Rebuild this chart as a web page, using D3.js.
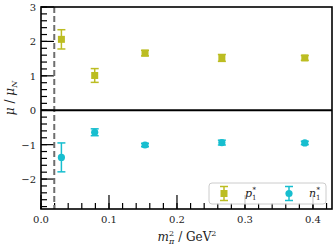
<!DOCTYPE html>
<html>
<head>
<meta charset="utf-8">
<script src="https://cdn.jsdelivr.net/npm/d3@7"></script>
<style>
  body { margin: 0; background: #fff; }
  text { font-family: "DejaVu Serif", "Liberation Serif", serif; }
</style>
</head>
<body>
<script>
'use strict';

// m_pi^2 values (GeV^2)
const mpi2 = [0.030, 0.079, 0.153, 0.266, 0.388];
// proton p1* magnetic moment and errors
const pVal = [2.06, 1.01, 1.66, 1.52, 1.52];
const pErr = [0.28, 0.20, 0.08, 0.10, 0.07];
// neutron n1*
const nVal = [-1.37, -0.64, -1.01, -0.94, -0.95];
const nErr = [0.42, 0.10, 0.05, 0.07, 0.05];
const physPoint = 0.0195;
const xTicks = [0.0, 0.1, 0.2, 0.3, 0.4];
const yTicks = [-2, -1, 0, 1, 2, 3];

const width = 335, height = 251;
const margin = {top: 7, right: 3, bottom: 42, left: 41};
const olive = "#bcbd22", cyan = "#17becf";

const svg = d3.select("body").append("svg")
    .attr("width", width)
    .attr("height", height);

const x = d3.scaleLinear().domain([0, 0.428]).range([margin.left, width - margin.right]);
const y = d3.scaleLinear().domain([-2.87, 3]).range([height - margin.bottom, margin.top]);

const x0 = x.range()[0], x1 = x.range()[1];
const y0 = y.range()[0], y1 = y.range()[1];

// minor ticks
const xMinor = d3.range(0, 0.428, 0.02);
const yMinor = d3.range(-2.8, 3.001, 0.2);

svg.append("g").selectAll("line")
    .data(xMinor)
    .enter().append("line")
    .attr("x1", d => x(d)).attr("x2", d => x(d))
    .attr("y1", y0).attr("y2", y0 - 6)
    .attr("stroke", "#000").attr("stroke-width", 1.2);

svg.append("g").selectAll("line")
    .data(xTicks)
    .enter().append("line")
    .attr("x1", d => x(d)).attr("x2", d => x(d))
    .attr("y1", y0).attr("y2", y0 - 14)
    .attr("stroke", "#000").attr("stroke-width", 1.2);

svg.append("g").selectAll("line")
    .data(yMinor)
    .enter().append("line")
    .attr("x1", x0).attr("x2", x0 + 6)
    .attr("y1", d => y(d)).attr("y2", d => y(d))
    .attr("stroke", "#000").attr("stroke-width", 1.2);

svg.append("g").selectAll("line")
    .data(yTicks)
    .enter().append("line")
    .attr("x1", x0).attr("x2", x0 + 13)
    .attr("y1", d => y(d)).attr("y2", d => y(d))
    .attr("stroke", "#000").attr("stroke-width", 1.2);

// tick labels
svg.append("g").selectAll("text")
    .data(xTicks)
    .enter().append("text")
    .attr("x", d => x(d)).attr("y", y0 + 14)
    .attr("text-anchor", "middle")
    .attr("font-size", 10)
    .attr("fill", "#222")
    .text(d => d3.format(".1f")(d));

svg.append("g").selectAll("text")
    .data(yTicks)
    .enter().append("text")
    .attr("x", x0 - 5).attr("y", d => y(d) + 4)
    .attr("text-anchor", "end")
    .attr("font-size", 10)
    .attr("fill", "#222")
    .text(d => d < 0 ? "\u2212" + Math.abs(d) : d);

// physical point
svg.append("line")
    .attr("x1", x(physPoint)).attr("x2", x(physPoint))
    .attr("y1", y1).attr("y2", y0)
    .attr("stroke", "#6e6e6e").attr("stroke-width", 2)
    .attr("stroke-dasharray", "6,3");

// zero line
svg.append("line")
    .attr("x1", x0).attr("x2", x1)
    .attr("y1", y(0)).attr("y2", y(0))
    .attr("stroke", "#000").attr("stroke-width", 2);

// frame
svg.append("rect")
    .attr("x", x0).attr("y", y1)
    .attr("width", x1 - x0).attr("height", y0 - y1)
    .attr("fill", "none").attr("stroke", "#000").attr("stroke-width", 1.6);

function errorBars(vals, errs, color) {
    const g = svg.append("g").attr("stroke", color).attr("stroke-width", 1.5);
    mpi2.forEach((m, i) => {
        const cx = x(m);
        const top = y(vals[i] + errs[i]), bot = y(vals[i] - errs[i]);
        g.append("line").attr("x1", cx).attr("x2", cx).attr("y1", top).attr("y2", bot);
        g.append("line").attr("x1", cx - 4).attr("x2", cx + 4).attr("y1", top).attr("y2", top);
        g.append("line").attr("x1", cx - 4).attr("x2", cx + 4).attr("y1", bot).attr("y2", bot);
    });
}

errorBars(pVal, pErr, olive);
svg.append("g").selectAll("rect")
    .data(mpi2)
    .enter().append("rect")
    .attr("x", d => x(d) - 3.5)
    .attr("y", (d, i) => y(pVal[i]) - 3.5)
    .attr("width", 7).attr("height", 7)
    .attr("fill", olive);

errorBars(nVal, nErr, cyan);
svg.append("g").selectAll("circle")
    .data(mpi2)
    .enter().append("circle")
    .attr("cx", d => x(d))
    .attr("cy", (d, i) => y(nVal[i]))
    .attr("r", 3.6)
    .attr("fill", cyan);

// legend
const leg = svg.append("g");
leg.append("rect")
    .attr("x", 209).attr("y", 183)
    .attr("width", 117).attr("height", 21)
    .attr("rx", 3)
    .attr("fill", "#fff").attr("fill-opacity", 0.8)
    .attr("stroke", "#ccc").attr("stroke-width", 1);

const legItems = [
    {label: "p", color: olive, shape: "square", lx: 224, tx: 245},
    {label: "n", color: cyan, shape: "circle", lx: 289, tx: 309}
];
legItems.forEach(it => {
    const cy = 193.5;
    leg.append("line").attr("x1", it.lx).attr("x2", it.lx)
        .attr("y1", cy - 7).attr("y2", cy + 7)
        .attr("stroke", it.color).attr("stroke-width", 1.5);
    [-7, 7].forEach(o => leg.append("line")
        .attr("x1", it.lx - 4).attr("x2", it.lx + 4)
        .attr("y1", cy + o).attr("y2", cy + o)
        .attr("stroke", it.color).attr("stroke-width", 1.5));
    if (it.shape === "square") {
        leg.append("rect").attr("x", it.lx - 3.5).attr("y", cy - 3.5)
            .attr("width", 7).attr("height", 7).attr("fill", it.color);
    } else {
        leg.append("circle").attr("cx", it.lx).attr("cy", cy).attr("r", 3.6).attr("fill", it.color);
    }
    const t = leg.append("text").attr("x", it.tx).attr("y", cy + 3)
        .attr("font-size", 11).attr("font-style", "italic").attr("fill", "#222");
    t.append("tspan").text(it.label);
    t.append("tspan").attr("font-size", 7).attr("dy", 3).attr("font-style", "normal").text("1");
    t.append("tspan").attr("font-size", 7).attr("dx", -4).attr("dy", -8).attr("font-style", "normal").text("*");
});

// axis labels
const xl = svg.append("text")
    .attr("x", 187).attr("y", 241)
    .attr("text-anchor", "middle")
    .attr("font-size", 12).attr("fill", "#222");
xl.append("tspan").attr("font-style", "italic").text("m");
xl.append("tspan").attr("font-size", 8).attr("dy", -5).text("2");
xl.append("tspan").attr("font-size", 8).attr("font-style", "italic").attr("dx", -5).attr("dy", 8).text("\u03c0");
xl.append("tspan").attr("dy", -3).text(" / GeV");
xl.append("tspan").attr("font-size", 8).attr("dy", -5).text("2");

const yl = svg.append("text")
    .attr("transform", "translate(14,98) rotate(-90)")
    .attr("text-anchor", "middle")
    .attr("font-size", 12).attr("fill", "#222");
yl.append("tspan").attr("font-style", "italic").text("\u03bc");
yl.append("tspan").text(" / ");
yl.append("tspan").attr("font-style", "italic").text("\u03bc");
yl.append("tspan").attr("font-size", 8).attr("font-style", "italic").attr("dy", 3).text("N");
</script>
</body>
</html>
